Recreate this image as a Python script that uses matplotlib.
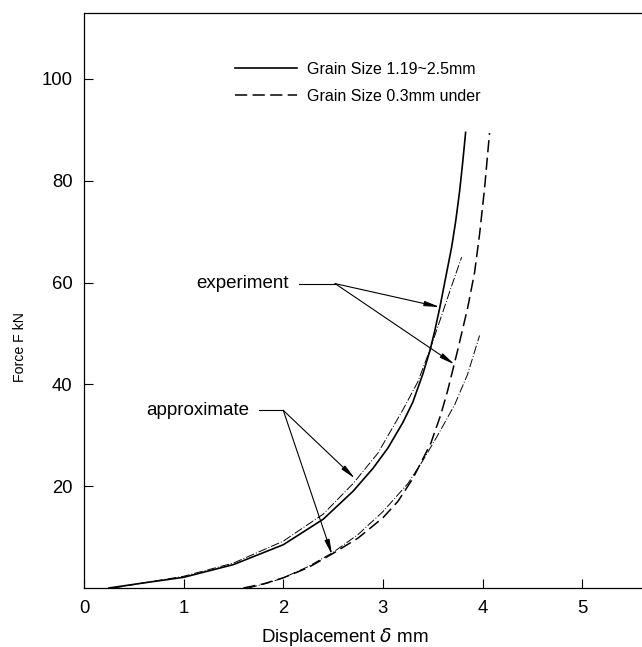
import matplotlib
matplotlib.use("Agg")
import matplotlib.pyplot as plt

plt.rcParams['font.family'] = ['Liberation Sans', 'DejaVu Sans']

# experiment, grain size 1.19~2.5mm (solid)
exp_coarse_x = [0.25, 0.6, 1.0, 1.5, 2.0, 2.4, 2.7, 2.9, 3.05, 3.2, 3.3, 3.4, 3.47,
                3.52, 3.57, 3.63, 3.69, 3.73, 3.77, 3.8, 3.83]
exp_coarse_f = [0, 1.0, 2.1, 4.6, 8.5, 13.5, 19, 23.5, 27.5, 32.5, 36.5, 42, 46.5,
                50.5, 55, 61, 67, 72, 78, 83.5, 89.5]

# approximate, grain size 1.19~2.5mm
app_coarse_x = [0.3, 0.66, 1.0, 1.5, 2.0, 2.4, 2.7, 2.95, 3.2, 3.35, 3.47, 3.58, 3.68, 3.79]
app_coarse_f = [0, 1.2, 2.3, 4.9, 9.2, 14.5, 20.5, 26.5, 35, 40.5, 46.7, 53, 58.8, 65]

# experiment, grain size 0.3mm under (dashed)
exp_fine_x = [1.6, 1.8, 2.0, 2.25, 2.5, 2.75, 3.0, 3.15, 3.3, 3.48, 3.58, 3.65, 3.75,
              3.85, 3.92, 3.97, 4.02, 4.07]
exp_fine_f = [0, 0.8, 2.0, 4.0, 6.8, 9.8, 13.8, 17, 21.5, 28.4, 34, 38.8, 46.7,
              55, 62, 69.5, 78.5, 89.4]

# approximate, grain size 0.3mm under
app_fine_x = [1.65, 1.85, 2.0, 2.25, 2.5, 2.75, 3.0, 3.25, 3.4, 3.55, 3.72, 3.85, 3.97]
app_fine_f = [0, 1.0, 2.0, 4.2, 7.0, 10.5, 15, 20.5, 25, 30, 36, 42, 49.6]

x_ticks = [0, 1, 2, 3, 4, 5]
y_ticks = [20, 40, 60, 80, 100]

fig = plt.figure(figsize=(6.42, 6.47), dpi=100)
ax = fig.add_axes([0.1308, 0.0912, 0.8692, 0.889])

ax.plot(exp_coarse_x, exp_coarse_f, color='k', lw=1.2, label='Grain Size 1.19~2.5mm')
ax.plot(exp_fine_x, exp_fine_f, color='k', lw=1.1, ls=(0, (8, 3.5)), label='Grain Size 0.3mm under')
ax.plot(app_coarse_x, app_coarse_f, color='k', lw=0.7, ls=(0, (9, 2, 1, 2)))
ax.plot(app_fine_x, app_fine_f, color='k', lw=0.7, ls=(0, (9, 2, 1, 2)))

ax.set_xlim(0, 5.6)
ax.set_ylim(0, 113)
ax.set_xticks(x_ticks)
ax.set_yticks(y_ticks)
ax.tick_params(direction='in', length=6.7, width=0.8, labelsize=13.3, pad=8.3)
ax.spines['right'].set_visible(False)
for s in ['left', 'bottom', 'top']:
    ax.spines[s].set_linewidth(0.9)

ax.set_xlabel(r'Displacement $\delta$ mm', fontsize=13.5)
ax.xaxis.set_label_coords(0.468, -0.066)
ax.set_ylabel('Force F kN', fontsize=10.2)
ax.yaxis.set_label_coords(-0.102, 0.419)

leg = ax.legend(loc='upper left', bbox_to_anchor=(0.27, 0.915), frameon=False,
                fontsize=11.5, handlelength=3.9, handletextpad=0.6,
                labelspacing=0.75, borderpad=0, borderaxespad=0)

arrow = dict(arrowstyle='-|>,head_length=0.9,head_width=0.15', color='k', lw=0.8,
             shrinkA=0, shrinkB=0)

# experiment labels
ax.text(2.06, 59.8, 'experiment', ha='right', va='center', fontsize=13.5)
ax.plot([2.16, 2.52], [59.8, 59.8], color='k', lw=0.8)
ax.annotate('', xy=(3.57, 55.2), xytext=(2.52, 59.8), arrowprops=arrow)
ax.annotate('', xy=(3.72, 43.9), xytext=(2.52, 59.8), arrowprops=arrow)

# approximate labels
ax.text(1.66, 34.9, 'approximate', ha='right', va='center', fontsize=13.5)
ax.plot([1.76, 2.0], [34.9, 34.9], color='k', lw=0.8)
ax.annotate('', xy=(2.72, 21.5), xytext=(2.0, 34.9), arrowprops=arrow)
ax.annotate('', xy=(2.49, 6.5), xytext=(2.0, 34.9), arrowprops=arrow)

fig.savefig('out.png', dpi=100)
